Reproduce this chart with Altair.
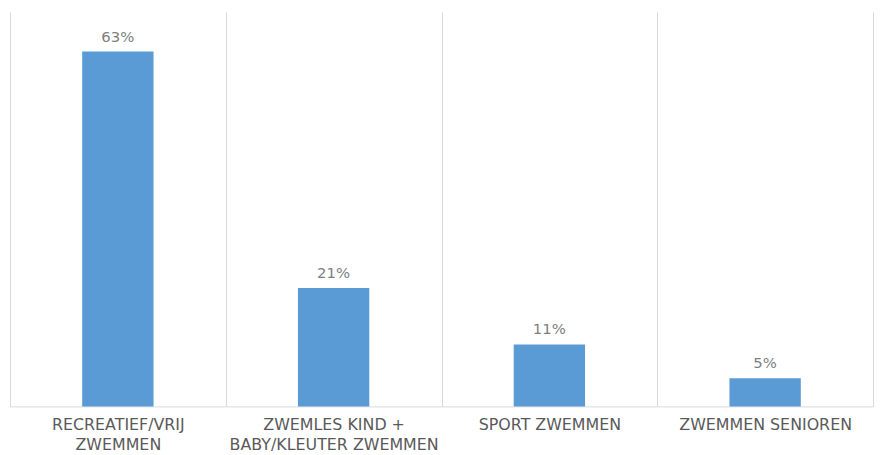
import altair as alt
import pandas as pd

categories = ["RECREATIEF/VRIJ|ZWEMMEN", "ZWEMLES KIND +|BABY/KLEUTER ZWEMMEN",
              "SPORT ZWEMMEN", "ZWEMMEN SENIOREN"]
values = [63, 21, 11, 5]
value_labels = ["63%", "21%", "11%", "5%"]

df = pd.DataFrame({"cat": categories, "val": values, "lbl": value_labels})

x = alt.X("cat:N", sort=categories, title=None,
          scale=alt.Scale(paddingInner=0, paddingOuter=0),
          axis=alt.Axis(labelExpr="split(datum.label, '|')", labelAngle=0,
                        labelFont="DejaVu Sans", labelFontSize=16, labelColor="#595959",
                        labelLineHeight=21, labelPadding=10, ticks=False, labelLimit=400,
                        domainColor="#d9d9d9", grid=True, gridColor="#d9d9d9",
                        tickBand="extent", labelBaseline="top"))
y = alt.Y("val:Q", scale=alt.Scale(domain=[0, 70]), axis=None)

bars = alt.Chart(df).mark_bar(color="#5B9BD5", width=72).encode(x=x, y=y)
text = alt.Chart(df).mark_text(font="DejaVu Sans", fontSize=15, color="#7f7f7f",
                               dy=-7, baseline="bottom").encode(
    x=alt.X("cat:N", sort=categories), y=y, text="lbl:N")

chart = (bars + text).properties(
    width=871, height=398,
    autosize=alt.AutoSizeParams(type="none"),
    padding={"left": 2, "top": 2, "right": 2, "bottom": 45},
).configure_view(stroke=None)

chart.save("out.html", embed_options={"renderer": "svg", "actions": False})
